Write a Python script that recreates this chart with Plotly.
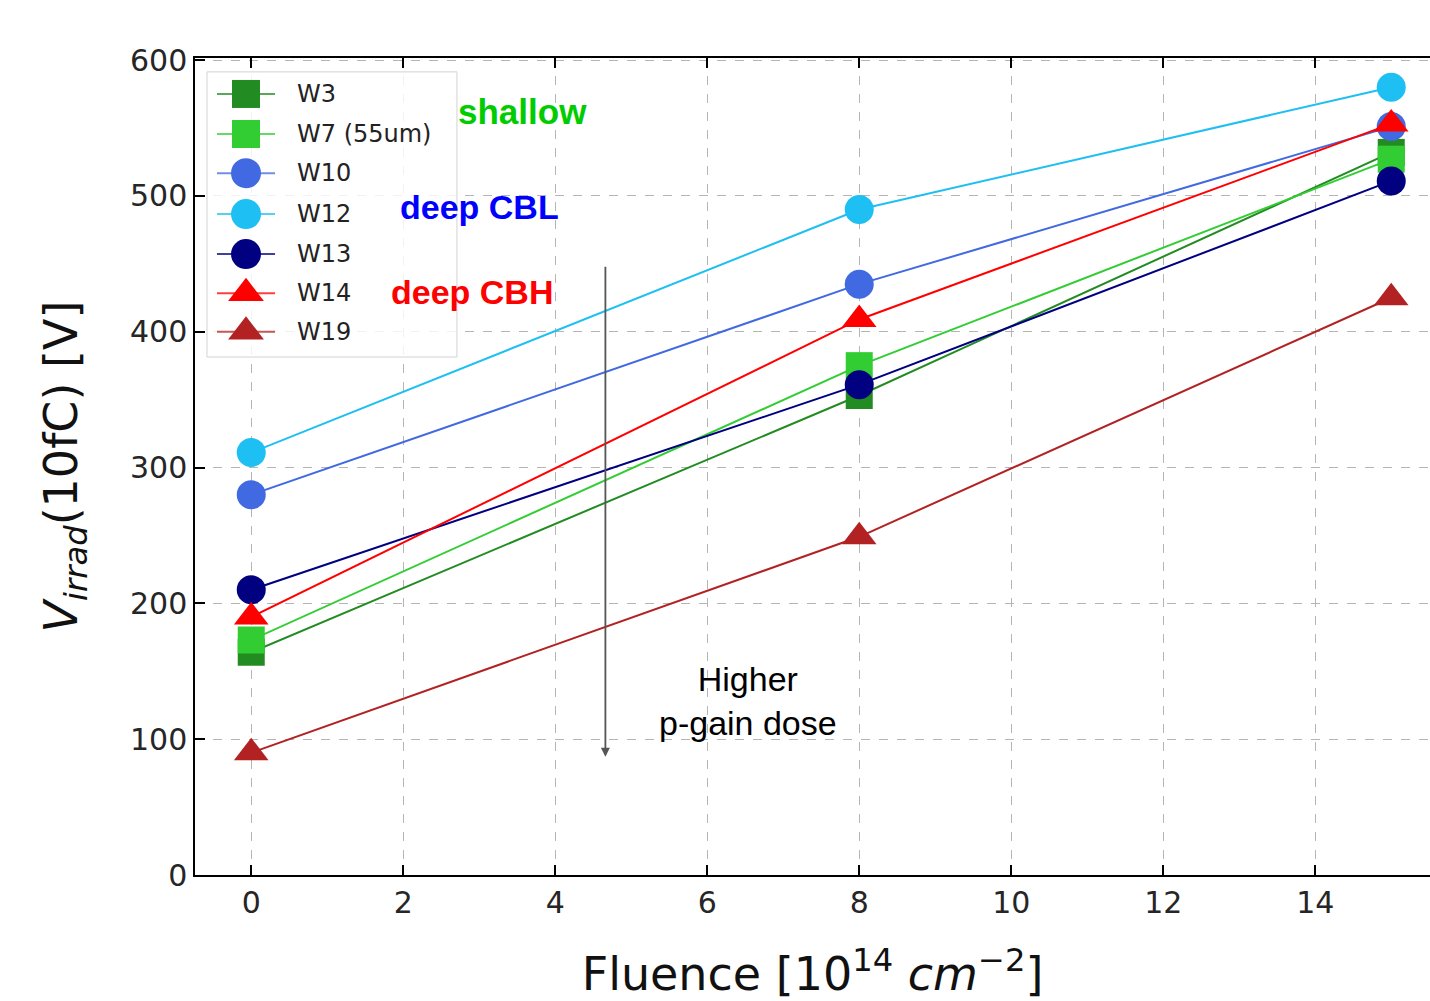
import plotly.graph_objects as go

fluence = [0, 8, 15]
names = ["W3", "W7 (55um)", "W10", "W12", "W13", "W14", "W19"]
w3 = [164, 353, 532]
w7 = [173, 375, 527]
w10 = [280, 435, 551]
w12 = [311, 490, 580]
w13 = [210, 361, 511]
w14 = [190, 409, 553]
w19 = [90, 249, 425]
series = [w3, w7, w10, w12, w13, w14, w19]
colors = ["#228B22", "#32CD32", "#4169E1", "#1EBFF2", "#000080", "#FF0000", "#B22222"]
symbols = ["square", "square", "circle", "circle", "circle", "triangle-up", "triangle-up"]
sizes = [27, 27, 29, 29, 29, 30, 30]

fig = go.Figure()
for n, s, c, sym, sz in zip(names, series, colors, symbols, sizes):
    fig.add_trace(go.Scatter(
        x=fluence, y=s, name=n, mode="lines+markers",
        line=dict(color=c, width=2),
        marker=dict(color=c, symbol=sym, size=sz, line=dict(width=0)),
        showlegend=False,
    ))

# ---- custom legend (drawn on an overlay axis spanning the plot area, 0..1) ----
lg_x0, lg_x1, lg_y0, lg_y1 = 0.0097, 0.2121, 0.634, 0.983
row_y = [0.956, 0.907, 0.859, 0.809, 0.760, 0.712, 0.665]
seg_x0, seg_x1, mk_x, txt_x = 0.0178, 0.0648, 0.0413, 0.081

fig.add_trace(go.Scatter(
    x=[lg_x0, lg_x1, lg_x1, lg_x0, lg_x0], y=[lg_y0, lg_y0, lg_y1, lg_y1, lg_y0],
    xaxis="x2", yaxis="y2", mode="lines", fill="toself",
    fillcolor="rgba(255,255,255,0.82)", line=dict(color="#d3d3d3", width=1),
    hoverinfo="skip", showlegend=False,
))
for n, c, sym, sz, ry in zip(names, colors, symbols, sizes, row_y):
    fig.add_trace(go.Scatter(
        x=[seg_x0, seg_x1], y=[ry, ry], xaxis="x2", yaxis="y2", mode="lines",
        line=dict(color=c, width=2), opacity=0.75, hoverinfo="skip", showlegend=False,
    ))
    fig.add_trace(go.Scatter(
        x=[mk_x], y=[ry], xaxis="x2", yaxis="y2", mode="markers",
        marker=dict(color=c, symbol=sym, size=sz + 1, line=dict(width=0)),
        hoverinfo="skip", showlegend=False,
    ))
    fig.add_annotation(x=txt_x, y=ry, xref="x2", yref="y2", text=n, showarrow=False,
                       xanchor="left", yanchor="middle",
                       font=dict(family="DejaVu Sans", size=24, color="#222222"))

tickfont = dict(family="DejaVu Sans", size=30, color="#262626")
fig.update_layout(
    width=1430, height=1001,
    margin=dict(l=195, r=0, t=58, b=126),
    plot_bgcolor="white", paper_bgcolor="white",
    showlegend=False,
    xaxis=dict(
        range=[-0.74, 15.51], tickvals=[0, 2, 4, 6, 8, 10, 12, 14],
        showline=True, linecolor="black", linewidth=1.5, mirror="allticks",
        ticks="inside", ticklen=10, tickwidth=1.5, tickcolor="black",
        showgrid=True, gridcolor="#b5b5b5", griddash="dash", gridwidth=1,
        zeroline=False, tickfont=tickfont,
        title=dict(text="Fluence [10<sup>14</sup> <i>cm</i><sup>−2</sup>]",
                   font=dict(family="DejaVu Sans", size=46, color="#111"), standoff=40),
    ),
    yaxis=dict(
        range=[0, 601.5], tickvals=[0, 100, 200, 300, 400, 500, 600],
        showline=True, linecolor="black", linewidth=1.5, mirror=False,
        ticks="inside", ticklen=10, tickwidth=1.5, tickcolor="black",
        showgrid=True, gridcolor="#b5b5b5", griddash="dash", gridwidth=1,
        zeroline=False, tickfont=tickfont,
        title=dict(text="<i>V</i><sub><i>irrad</i></sub>(10fC) [V]",
                   font=dict(family="DejaVu Sans", size=46, color="#111"), standoff=38),
    ),
    xaxis2=dict(overlaying="x", range=[0, 1], visible=False, fixedrange=True),
    yaxis2=dict(overlaying="y", range=[0, 1], visible=False, fixedrange=True),
)

fig.add_annotation(x=3.57, y=562, text="<b>shallow</b>", showarrow=False,
                   font=dict(family="Liberation Sans", size=35, color="#00CC00"))
fig.add_annotation(x=3.0, y=492, text="<b>deep CBL</b>", showarrow=False,
                   font=dict(family="Liberation Sans", size=34, color="#0000FF"))
fig.add_annotation(x=2.9, y=429, text="<b>deep CBH</b>", showarrow=False,
                   font=dict(family="Liberation Sans", size=34, color="#FF0000"))
fig.add_annotation(x=4.66, y=87, ax=4.66, ay=449, axref="x", ayref="y", xref="x", yref="y",
                   text="", showarrow=True, arrowhead=2, arrowsize=1, arrowwidth=1.8,
                   arrowcolor="#555555")
fig.add_annotation(x=6.54, y=128, text="Higher<br>p-gain dose", showarrow=False,
                   font=dict(family="Liberation Sans", size=34, color="black"))

fig.write_html("out.html")
